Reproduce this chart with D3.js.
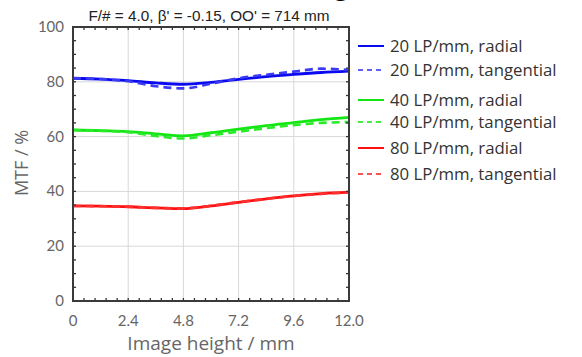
<!DOCTYPE html>
<html><head><meta charset="utf-8">
<script src="https://cdn.jsdelivr.net/npm/d3@7"></script>
<style>body{margin:0;background:#fff}svg{display:block}</style>
</head><body><svg id="c" width="582" height="357"></svg>
<script>
const imageHeight = [0, 1.2, 2.4, 3.6, 4.8, 6.0, 7.2, 8.4, 9.6, 10.8, 12.0];
const lp20Radial = [81.3, 81.0, 80.4, 79.6, 79.1, 79.8, 80.9, 81.9, 82.7, 83.4, 83.9];
const lp20Tangential = [81.3, 81.0, 80.2, 78.4, 77.6, 79.3, 81.3, 82.6, 83.7, 84.8, 84.3];
const lp40Radial = [62.4, 62.2, 61.8, 61.0, 60.3, 61.4, 62.7, 64.0, 65.1, 66.2, 67.0];
const lp40Tangential = [62.4, 62.1, 61.6, 60.2, 59.3, 60.5, 61.8, 63.1, 64.2, 65.0, 65.3];
const lp80Radial = [34.7, 34.6, 34.4, 34.0, 33.7, 34.7, 36.0, 37.3, 38.4, 39.2, 39.7];
const lp80Tangential = [34.7, 34.6, 34.4, 34.0, 33.8, 34.8, 36.1, 37.3, 38.3, 39.1, 39.6];
const xTicks = [0, 2.4, 4.8, 7.2, 9.6, 12.0];
const xTickLabels = ["0", "2.4", "4.8", "7.2", "9.6", "12.0"];
const yTicks = [0, 20, 40, 60, 80, 100];
const seriesNames = ["20 LP/mm, radial", "20 LP/mm, tangential", "40 LP/mm, radial", "40 LP/mm, tangential", "80 LP/mm, radial", "80 LP/mm, tangential"];
const seriesValues = [lp20Radial, lp20Tangential, lp40Radial, lp40Tangential, lp80Radial, lp80Tangential];
const seriesColors = ["#0a0af0", "#3a3af5", "#14e614", "#2aea2a", "#ff1010", "#ff3030"];
const legendColors = ["#0a0af0", "#6060ff", "#14e614", "#40f040", "#ff1010", "#ff5050"];
const seriesDashed = [false, true, false, true, false, true];

const svg = d3.select("#c");
const L = 73, R = 349, T = 27, B = 301;
const x = d3.scaleLinear().domain([0, 12]).range([L, R]);
const y = d3.scaleLinear().domain([0, 100]).range([B, T]);

// cropped heading descender at top edge
svg.append("text").attr("x", 332).attr("y", -5).attr("font-family", "Liberation Sans, Arial").attr("font-size", 30).attr("font-weight", "bold").attr("fill", "#000").text("g");

// gridlines
svg.append("g").selectAll("line").data(xTicks.slice(1, -1)).join("line")
  .attr("x1", d => x(d)).attr("x2", d => x(d)).attr("y1", T).attr("y2", B)
  .attr("stroke", "#d8d8d8").attr("stroke-width", 1);
svg.append("g").selectAll("line").data(yTicks.slice(1, -1)).join("line")
  .attr("x1", L).attr("x2", R).attr("y1", d => y(d)).attr("y2", d => y(d))
  .attr("stroke", "#d8d8d8").attr("stroke-width", 1);

// lines
const line = d3.line().x((d, i) => x(imageHeight[i])).y(d => y(d)).curve(d3.curveMonotoneX);
seriesValues.forEach((vals, k) => {
  svg.append("path").attr("d", line(vals)).attr("fill", "none")
    .attr("stroke", seriesColors[k]).attr("stroke-width", seriesDashed[k] ? 2.6 : 2.8)
    .attr("stroke-dasharray", seriesDashed[k] ? "8,5" : null);
});

// ticks (inward, all sides)
const xMinor = d3.range(0, 12.001, 0.48);
const yMinor = d3.range(0, 100.001, 5);
const tg = svg.append("g").attr("stroke", "#333").attr("stroke-width", 1.3);
xMinor.forEach(v => {
  tg.append("line").attr("x1", x(v)).attr("x2", x(v)).attr("y1", B).attr("y2", B - 3);
  tg.append("line").attr("x1", x(v)).attr("x2", x(v)).attr("y1", T).attr("y2", T + 3);
});
yMinor.forEach(v => {
  tg.append("line").attr("y1", y(v)).attr("y2", y(v)).attr("x1", L).attr("x2", L + 3);
  tg.append("line").attr("y1", y(v)).attr("y2", y(v)).attr("x1", R).attr("x2", R - 3);
});

// frame
svg.append("rect").attr("x", L).attr("y", T).attr("width", R - L).attr("height", B - T)
  .attr("fill", "none").attr("stroke", "#3a3a3a").attr("stroke-width", 2);

// tick labels
const lblFont = "Lato, 'Open Sans', sans-serif";
const txtFont = "'Open Sans', Lato, sans-serif";
svg.append("g").selectAll("text").data(xTicks).join("text")
  .attr("x", d => x(d)).attr("y", 326).attr("text-anchor", "middle")
  .attr("font-family", lblFont).attr("font-size", 15).attr("fill", "#666")
  .text((d, i) => xTickLabels[i]);
svg.append("g").selectAll("text").data(yTicks).join("text")
  .attr("x", 64).attr("y", d => y(d) + 5).attr("text-anchor", "end")
  .attr("font-family", lblFont).attr("font-size", 15).attr("fill", "#666")
  .text(d => d);

// axis titles
svg.append("text").attr("x", 211).attr("y", 350).attr("text-anchor", "middle")
  .attr("font-family", txtFont).attr("font-size", 19).attr("fill", "#666").text("Image height / mm");
svg.append("text").attr("transform", "translate(28,163) rotate(-90)").attr("text-anchor", "middle")
  .attr("font-family", txtFont).attr("font-size", 18).attr("fill", "#666").text("MTF / %");

// chart title
svg.append("text").attr("x", 209).attr("y", 21).attr("text-anchor", "middle")
  .attr("font-family", "Liberation Sans, Arial, sans-serif").attr("font-size", 15.3).attr("fill", "#222")
  .text("F/# = 4.0, β' = -0.15, OO' = 714 mm");

// legend
const legY = [46, 70, 100, 122, 148, 174];
const lg = svg.append("g");
seriesNames.forEach((name, k) => {
  lg.append("line").attr("x1", 358).attr("x2", 384).attr("y1", legY[k]).attr("y2", legY[k])
    .attr("stroke", legendColors[k]).attr("stroke-width", 2)
    .attr("stroke-dasharray", seriesDashed[k] ? "5,4" : null);
  lg.append("text").attr("x", 390).attr("y", legY[k] + 6)
    .attr("font-family", txtFont).attr("font-size", 16.8).attr("fill", "#333").text(name);
});
</script></body></html>
